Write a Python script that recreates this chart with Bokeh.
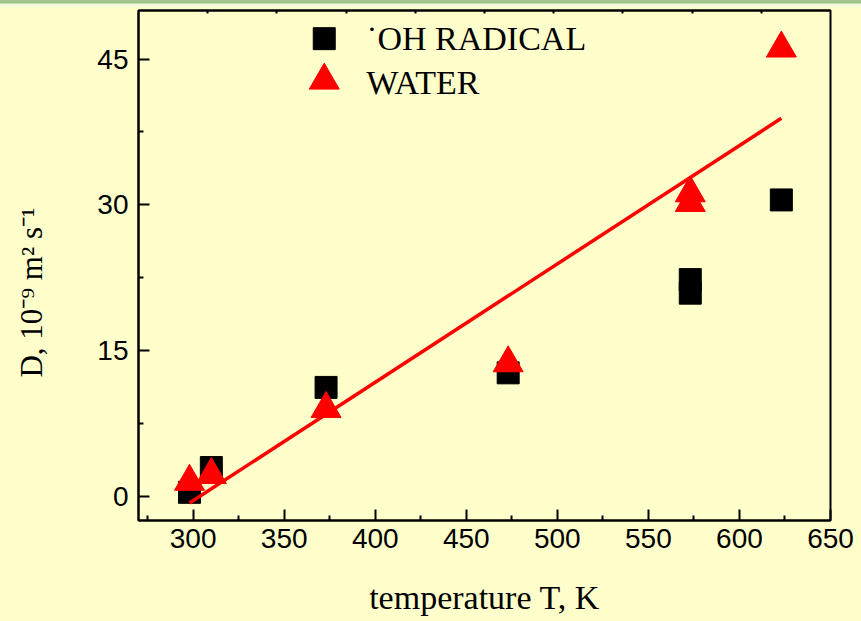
from bokeh.plotting import figure
from bokeh.models import Range1d, FixedTicker, LinearAxis, Label
from bokeh.embed import file_html
from bokeh.resources import INLINE

# ---- data ----
T_OH = [298, 310, 373, 473, 573, 573, 623]
D_OH = [0.4, 2.95, 11.2, 12.7, 22.3, 20.9, 30.5]
T_WATER = [298, 310, 373, 473, 573, 573, 623]
D_WATER = [1.5, 2.2, 9.0, 13.7, 31.2, 30.2, 46.1]
T_FIT = [298, 623]
D_FIT = [-0.7, 38.9]

X_TICKS = [300, 350, 400, 450, 500, 550, 600, 650]
Y_TICKS = [0, 15, 30, 45]
TOP_TICKS = [0.1, 0.2, 0.3, 0.4, 0.5, 0.6, 0.7, 0.8, 0.9]

LEGEND_LABELS = ["\u02d9OH RADICAL", "WATER"]
X_LABEL = "temperature T, K"
Y_LABEL = "D, 10\u207b\u2079 m\u00b2 s\u207b\u00b9"

BG = "#FFFFCC"
SERIF = "Liberation Serif"
SANS = "Liberation Sans"

x_minor = [t - 25 for t in X_TICKS]
y_minor = [t + 7.5 for t in Y_TICKS]

p = figure(width=861, height=621,
           x_range=Range1d(270, 650), y_range=Range1d(-2.5, 50),
           output_backend="svg", toolbar_location=None,
           min_border_left=138, min_border_right=31,
           min_border_top=10, min_border_bottom=101,
           background_fill_color=BG, border_fill_color=None,
           outline_line_color="black", outline_line_width=2)
p.styles = {"background": "linear-gradient(to bottom, #a4c892 0px, #98c184 3px, "
                          "#eef6da 4px, #f8fbd8 6px, #FFFFCC 8px, #FFFFCC 100%)"}
p.xgrid.visible = False
p.ygrid.visible = False

for ax in (p.xaxis[0], p.yaxis[0]):
    ax.axis_line_width = 2
    ax.major_tick_in = 11
    ax.major_tick_out = 0
    ax.minor_tick_in = 5
    ax.minor_tick_out = 0
    ax.major_tick_line_width = 2
    ax.minor_tick_line_width = 2
    ax.major_label_text_font = SANS
    ax.major_label_text_font_size = "28px"
    ax.major_label_text_color = "black"
    ax.axis_label_text_font = SERIF
    ax.axis_label_text_font_style = "normal"
    ax.axis_label_text_color = "black"

p.xaxis[0].ticker = FixedTicker(ticks=X_TICKS, minor_ticks=x_minor + [X_TICKS[-1] - 25])
p.yaxis[0].ticker = FixedTicker(ticks=Y_TICKS, minor_ticks=y_minor)
p.xaxis[0].major_label_standoff = 8
p.yaxis[0].major_label_standoff = 10

# axis titles (trailing no-break spaces nudge the y title down like the original)
p.xaxis[0].axis_label = X_LABEL
p.xaxis[0].axis_label_text_font_size = "34px"
p.xaxis[0].axis_label_standoff = 28
p.yaxis[0].axis_label = Y_LABEL + "\u00a0" * 7
p.yaxis[0].axis_label_text_font_size = "31px"
p.yaxis[0].axis_label_standoff = 45

p.extra_x_ranges = {"top": Range1d(0, 1)}
top = LinearAxis(x_range_name="top", ticker=FixedTicker(ticks=TOP_TICKS),
                 major_label_text_font_size="1px", major_label_text_color=None,
                 major_label_standoff=0,
                 major_tick_in=3, major_tick_out=0, minor_tick_in=0, minor_tick_out=0,
                 axis_line_width=2, major_tick_line_width=2)
p.add_layout(top, "above")

p.scatter(T_OH, D_OH, marker="square", size=22, fill_color="black", line_color="black")
p.scatter(T_WATER, D_WATER, marker="triangle", size=30, fill_color="red", line_color="red")
p.line(T_FIT, D_FIT, line_color="red", line_width=3.5)

# legend (manual, to keep large keys with tight rows)
LEG_KEY_T = 372
LEG_TXT_T = 395
p.scatter([LEG_KEY_T], [47.1], marker="square", size=22, fill_color="black", line_color="black")
p.scatter([LEG_KEY_T], [42.8], marker="triangle", size=30, fill_color="red", line_color="red")
for txt, yv in zip(LEGEND_LABELS, [47.1, 42.6]):
    p.add_layout(Label(x=LEG_TXT_T, y=yv, text=txt, text_font=SERIF,
                       text_font_size="34px", text_color="black",
                       text_baseline="alphabetic"))

open("out.html", "w").write(file_html(p, INLINE))
